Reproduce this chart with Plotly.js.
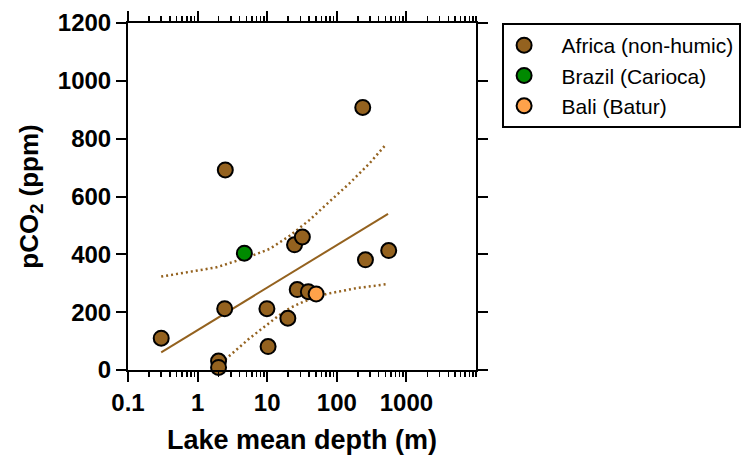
<!DOCTYPE html>
<html>
<head>
<meta charset="utf-8">
<script src="https://cdn.plot.ly/plotly-3.0.1.min.js"></script>
<style>html,body{margin:0;padding:0;background:#fff;}#chart{width:755px;height:459px;}</style>
</head>
<body>
<div id="chart"></div>
<script>
// Data
const africaX = [0.3, 2.0, 2.0, 2.45, 2.5, 9.9, 10.3, 19.8, 24.7, 32, 27, 39, 236, 258, 557];
const africaY = [110, 31, 9, 212, 692, 212, 81, 179, 433, 460, 278, 271, 908, 381, 413];
const brazilX = [4.7];
const brazilY = [404];
const baliX = [50.5];
const baliY = [263];
const fitX = [0.3, 545];
const fitY = [61, 540];
const upperX = [0.3, 0.62, 1.86, 5.6, 10.9, 21, 40.7, 79, 153, 296, 517];
const upperY = [323, 335, 355, 392, 419, 464, 519, 583, 646, 715, 782];
const lowerX = [2.0, 2.6, 5.6, 15, 21, 33, 71, 190, 530];
const lowerY = [10, 40, 110, 190, 214, 236, 263, 283, 297];
const xTickVals = [0.1, 1, 10, 100, 1000];
const xTickText = ['0.1', '1', '10', '100', '1000'];
const yTickVals = [0, 200, 400, 600, 800, 1000, 1200];
const seriesNames = ['Africa (non-humic)', 'Brazil (Carioca)', 'Bali (Batur)'];

const brown = '#94621F';
const green = '#008A00';
const orange = '#FFA24A';
const FONT = 'Liberation Sans, Arial, sans-serif';
const pad = '\u00a0\u00a0\u00a0';

const traces = [
  {x: fitX, y: fitY, mode: 'lines', line: {color: brown, width: 2}, showlegend: false, hoverinfo: 'skip'},
  {x: upperX, y: upperY, mode: 'lines', line: {color: brown, width: 2.5, dash: '2px,3px'}, showlegend: false, hoverinfo: 'skip'},
  {x: lowerX, y: lowerY, mode: 'lines', line: {color: brown, width: 2.5, dash: '2px,3px'}, showlegend: false, hoverinfo: 'skip'},
  {x: africaX, y: africaY, mode: 'markers', name: pad + seriesNames[0], cliponaxis: false,
   marker: {color: brown, size: 15, line: {color: '#000', width: 2}}},
  {x: brazilX, y: brazilY, mode: 'markers', name: pad + seriesNames[1], cliponaxis: false,
   marker: {color: green, size: 15, line: {color: '#000', width: 2}}},
  {x: baliX, y: baliY, mode: 'markers', name: pad + seriesNames[2], cliponaxis: false,
   marker: {color: orange, size: 15, line: {color: '#000', width: 2}}}
];

const layout = {
  width: 755, height: 459,
  margin: {l: 128, r: 279, t: 23, b: 89},
  paper_bgcolor: '#fff', plot_bgcolor: '#fff',
  font: {family: FONT, color: '#000'},
  xaxis: {
    type: 'log', range: [-1, 4],
    tickvals: xTickVals, ticktext: xTickText,
    ticks: 'outside', ticklen: 10, tickwidth: 2, tickcolor: '#000',
    minor: {ticks: 'outside', ticklen: 5, tickwidth: 1.5, tickcolor: '#000', dtick: 'D1'},
    showline: true, linecolor: '#000', linewidth: 2, mirror: 'ticks',
    showgrid: false, zeroline: false,
    tickfont: {family: FONT, size: 24, weight: 'bold'},
    title: {text: 'Lake mean depth (m)', font: {family: FONT, size: 27, weight: 'bold'}, standoff: 15}
  },
  yaxis: {
    range: [0, 1200],
    tickvals: yTickVals,
    ticks: 'outside', ticklen: 10, tickwidth: 2, tickcolor: '#000',
    showline: true, linecolor: '#000', linewidth: 2, mirror: 'ticks',
    showgrid: false, zeroline: false,
    tickfont: {family: FONT, size: 24, weight: 'bold'},
    title: {text: 'pCO<sub>2</sub> (ppm)', font: {family: FONT, size: 26, weight: 'bold'}, standoff: 12}
  },
  legend: {
    x: 1.075, y: 1.0, xanchor: 'left', yanchor: 'top',
    bordercolor: '#000', borderwidth: 2, bgcolor: '#fff',
    font: {family: FONT, size: 21, color: '#000'},
    itemwidth: 30, tracegroupgap: 0
  },
  showlegend: true
};

Plotly.newPlot('chart', traces, layout, {displayModeBar: false, staticPlot: true});
</script>
</body>
</html>
